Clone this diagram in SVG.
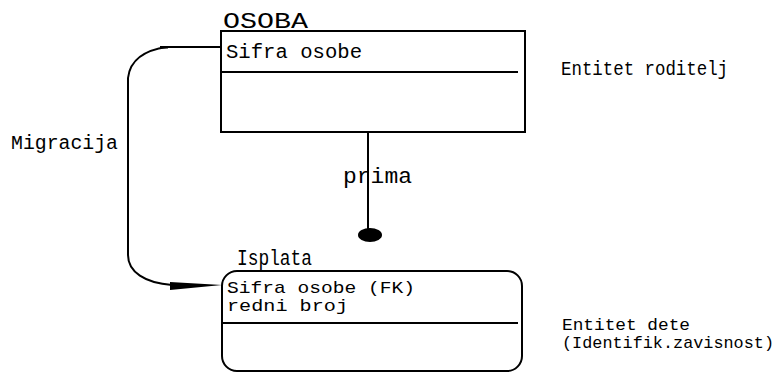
<svg xmlns="http://www.w3.org/2000/svg" width="780" height="372" viewBox="0 0 780 372">
<style>
text{font-family:"Liberation Mono","Courier New",monospace;font-size:22px;fill:#000}
.sm{font-size:17px}
.md{font-size:20px}
.ln{fill:none;stroke:#000;stroke-width:2}
</style>
<rect width="780" height="372" fill="#fff"/>
<g id="connectors">
<path class="ln" d="M221,47 L167,47 C145,50 130,60 128,78 L128,255 C128,272 145,283 172,285"/>
<path d="M160,46 L168,46 L168,48.5 L160,48.5 Z" fill="#000"/>
<path d="M170,282 L222,285 L170,290 Z" fill="#000"/>
<line class="ln" x1="368" y1="131" x2="368" y2="230"/>
<ellipse cx="370" cy="235" rx="12" ry="7" fill="#000"/>
<text x="343" y="183" textLength="69" lengthAdjust="spacingAndGlyphs">prima</text>
<text class="md" x="11" y="149" textLength="107" lengthAdjust="spacingAndGlyphs">Migracija</text>
</g>
<g id="osoba">
<text x="223" y="28" textLength="85" lengthAdjust="spacingAndGlyphs">OSOBA</text>
<rect class="ln" x="221" y="31" width="304" height="101"/>
<line class="ln" x1="221" y1="72" x2="518" y2="72"/>
<text class="md" x="226" y="58" textLength="136" lengthAdjust="spacingAndGlyphs">Sifra osobe</text>
</g>
<g id="isplata">
<text x="237" y="265" textLength="75" lengthAdjust="spacingAndGlyphs">Isplata</text>
<rect class="ln" x="222" y="271" width="300" height="100" rx="15" ry="15"/>
<line class="ln" x1="222" y1="323" x2="518" y2="323"/>
<text class="sm" x="227" y="293" textLength="188" lengthAdjust="spacingAndGlyphs">Sifra osobe (FK)</text>
<text class="sm" x="227" y="311" textLength="121" lengthAdjust="spacingAndGlyphs">redni broj</text>
</g>
<g id="labels">
<text class="md" x="561" y="75" textLength="167" lengthAdjust="spacingAndGlyphs">Entitet roditelj</text>
<text class="sm" x="562" y="330" textLength="128" lengthAdjust="spacingAndGlyphs">Entitet dete</text>
<text class="sm" x="562" y="348" textLength="212" lengthAdjust="spacingAndGlyphs">(Identifik.zavisnost)</text>
</g>
</svg>
